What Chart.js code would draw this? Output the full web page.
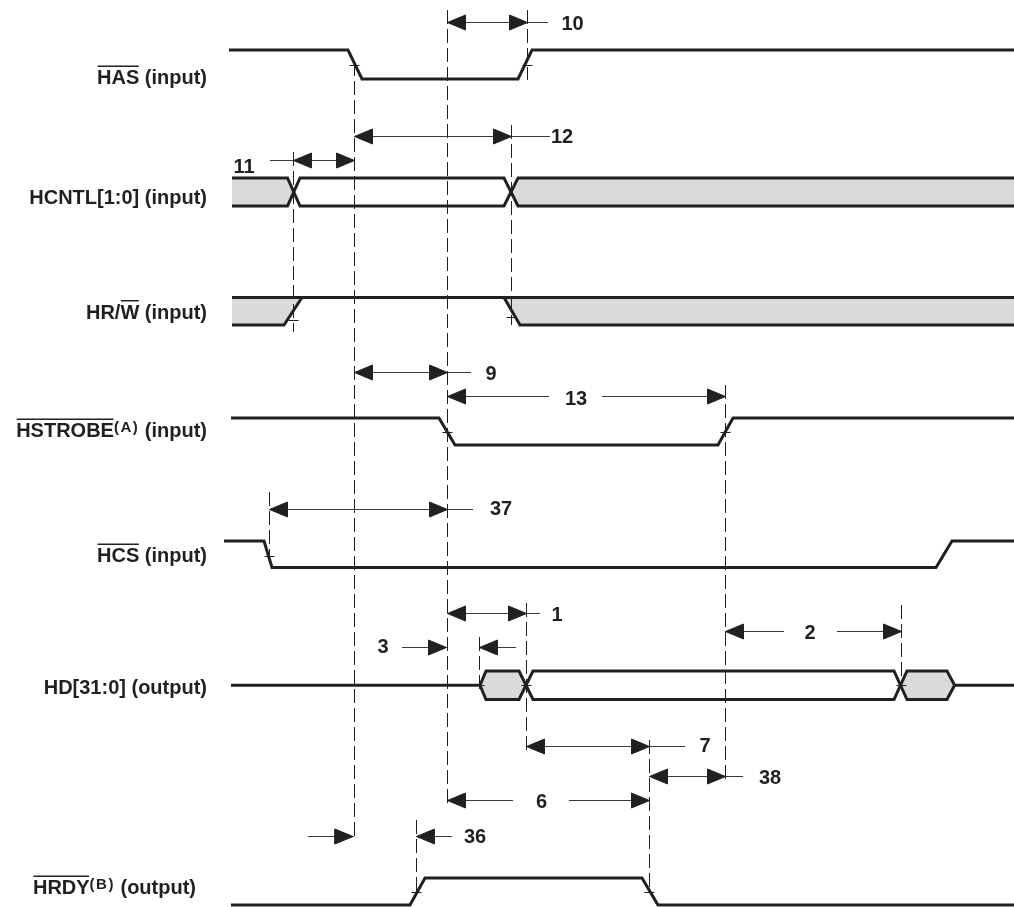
<!DOCTYPE html>
<html><head><meta charset="utf-8">
<script src="https://cdn.jsdelivr.net/npm/chart.js@4"></script>
<style>html,body{margin:0;padding:0;background:#fff;}canvas{display:block;}</style>
</head><body>
<canvas id="c" width="1014" height="907"></canvas>
<script>
// ---------------- DATA ----------------
// Signal lanes (value of the vertical "lane" scale at high / low level)
const signalNames = ['HAS', 'HCNTL[1:0]', 'HR/W', 'HSTROBE', 'HCS', 'HD[31:0]', 'HRDY'];
const laneHigh = [50, 178, 297.5, 418, 541, 671, 878];
const laneLow  = [79, 206, 325, 445, 567.5, 699.5, 905];

// Waveforms: edge times and levels (1 = high, 0 = low, 0.5 = mid / tri-state)
const hasT = [229, 348, 362, 518, 532, 1014];
const hasL = [1, 1, 0, 0, 1, 1];

const hcntlT  = [232, 287.5, 300, 504, 518, 1014];
const hcntlLA = [1, 1, 0, 0, 1, 1];
const hcntlLB = [0, 0, 1, 1, 0, 0];
const hcntlGrayLeftT  = [232, 287.5, 293.75, 287.5, 232];
const hcntlGrayLeftL  = [1, 1, 0.5, 0, 0];
const hcntlGrayRightT = [1014, 518, 511, 518, 1014];
const hcntlGrayRightL = [1, 1, 0.5, 0, 0];

const hrwHighT = [232, 1014];
const hrwHighL = [1, 1];
const hrwRiseT = [232, 284, 302];
const hrwRiseL = [0, 0, 1];
const hrwFallT = [504, 520, 1014];
const hrwFallL = [1, 0, 0];
const hrwGrayLeftT  = [232, 302, 284, 232];
const hrwGrayLeftL  = [1, 1, 0, 0];
const hrwGrayRightT = [504, 1014, 1014, 520];
const hrwGrayRightL = [1, 1, 0, 0];

const hstrobeT = [231, 439, 455, 718, 733, 1014];
const hstrobeL = [1, 1, 0, 0, 1, 1];

const hcsT = [224, 264, 272, 936, 952, 1014];
const hcsL = [1, 1, 0, 0, 1, 1];

const hdTA = [231, 480, 486, 519, 533, 894, 907, 947, 954.6, 1014];
const hdLA = [0.5, 0.5, 1, 1, 0, 0, 1, 1, 0.5, 0.5];
const hdTB = [480, 486, 519, 533, 894, 907, 947, 954.6];
const hdLB = [0.5, 0, 0, 1, 1, 0, 0, 0.5];
const hdHex1T = [480, 486, 519, 526, 519, 486];
const hdHex2T = [900.5, 907, 947, 954.6, 947, 907];
const hdHexL  = [0.5, 1, 1, 0.5, 0, 0];

const hrdyT = [231, 410, 425, 642, 658, 1014];
const hrdyL = [0, 0, 1, 1, 0, 0];

// Small "+" ticks where reference lines cross the edges: [time, lane, level]
const edgeTicks = [
  [354.5, 0, 0.5], [527.5, 0, 0.5],
  [293.5, 2, 0.2], [511.5, 2, 0.3],
  [447.5, 3, 0.5], [725.5, 3, 0.5],
  [269.5, 4, 0.45],
  [479.5, 5, 0.5], [526.5, 5, 0.5], [901.5, 5, 0.5],
  [416.5, 6, 0.5], [649.5, 6, 0.5]
];

// Dashed reference lines: time, from, to (lane-scale values)
const guideT    = [293.5, 354.5, 447.5, 511.5, 527.5, 269.5, 526.5, 479.5, 725.5, 649.5, 416.5, 901.5];
const guideFrom = [152, 62, 10, 125, 10, 492, 603, 637, 385, 740, 820, 605];
const guideTo   = [332, 838, 808, 325, 80, 558, 754, 692, 781, 893, 893, 688];

// Timing parameters (dimension arrows)
const dimLabels = ['10', '12', '11', '9', '13', '37', '1', '2', '3', '', '7', '38', '6', '', '36'];
const dimY      = [22.5, 136.5, 160.5, 372.5, 396.5, 509.5, 613.5, 631.5, 647.5, 647.5, 746.5, 776.5, 800.5, 836.5, 836.5];
const dimLabelX = [572.5, 562, 244, 491, 576, 501, 557, 810, 383, null, 705, 770, 541.5, null, 475];
const dimLabelY = [22.5, 135.5, 165.5, 373, 397.5, 508, 614, 632, 646, null, 745, 776.7, 800.7, null, 835.7];
const dimSegs = [
  [[447.5, 548]], [[354.5, 550]], [[270, 354.5]], [[354.5, 471]], [[447.5, 549], [602, 725.5]],
  [[269.5, 473]], [[447.5, 540]], [[725.5, 784], [837, 901.5]], [[402, 446.5]], [[479.5, 516]],
  [[526.5, 685]], [[649.5, 743]], [[447.5, 513], [569, 649.5]], [[308, 354]], [[416.5, 452]]
];
const dimLeftTips  = [[447.5], [354.5], [293.5], [354.5], [447.5], [269.5], [447.5], [725.5], [], [479.5], [526.5], [649.5], [447.5], [], [416.5]];
const dimRightTips = [[527.5], [511.5], [354.5], [447.5], [725.5], [447.5], [526.5], [901.5], [446.5], [], [649.5], [725.5], [649.5], [353], []];

// Signal name labels (runs: o = overline, s = superscript)
const labelRuns = [
  [{t: 'HAS', o: 1}, {t: ' (input)'}],
  [{t: 'HCNTL[1:0] (input)'}],
  [{t: 'HR/'}, {t: 'W', o: 1}, {t: ' (input)'}],
  [{t: 'HSTROBE', o: 1}, {t: '(A)', s: 1}, {t: ' (input)'}],
  [{t: 'HCS', o: 1}, {t: ' (input)'}],
  [{t: 'HD[31:0] (output)'}],
  [{t: 'HRDY', o: 1}, {t: '(B)', s: 1}, {t: ' (output)'}]
];

// ---------------- LAYOUT / STYLE ----------------
const INK = '#231f20';
const GRAY = '#d9dadb';
const DIMC = '#3a3a3a';
const labelRight = [207, 207, 207, 207, 207, 207, 196];
const labelBase  = [84, 203.5, 318.5, 437, 562, 693.5, 894];
const FONT = '"Liberation Sans", Arial, Helvetica, sans-serif';
const HEAD_LEN = 18, HEAD_HALF = 7.5;

// ---------------- BUILD ----------------
const yAt = (lane, level) => laneLow[lane] + (laneHigh[lane] - laneLow[lane]) * level;
const pts = (lane, T, L) => T.map((t, i) => ({x: t, y: yAt(lane, L[i])}));

const layers = [];
function addPoly(points, color, stroke) {
  layers.push({data: points.concat([points[0]]), showLine: true, tension: 0, pointRadius: 0,
    borderWidth: 1, borderColor: stroke ? color : 'rgba(0,0,0,0)',
    backgroundColor: color, fill: 'shape', clip: false, borderJoinStyle: 'miter'});
}
function addLine(points, color, width, dash) {
  layers.push({data: points, showLine: true, tension: 0, pointRadius: 0, borderWidth: width,
    borderColor: color, backgroundColor: color, fill: false, clip: false,
    borderDash: dash || [], borderJoinStyle: 'miter', borderCapStyle: 'butt'});
}

// gray (don't care / transition) areas
addPoly(pts(1, hcntlGrayLeftT, hcntlGrayLeftL), GRAY);
addPoly(pts(1, hcntlGrayRightT, hcntlGrayRightL), GRAY);
addPoly(pts(2, hrwGrayLeftT, hrwGrayLeftL), GRAY);
addPoly(pts(2, hrwGrayRightT, hrwGrayRightL), GRAY);
addPoly(pts(5, hdHex1T, hdHexL), GRAY);
addPoly(pts(5, hdHex2T, hdHexL), GRAY);

// dashed guides
guideT.forEach((t, i) => addLine([{x: t, y: guideFrom[i]}, {x: t, y: guideTo[i]}], INK, 1, [14, 5]));

// waveforms
const W = 3;
addLine(pts(0, hasT, hasL), INK, W);
addLine(pts(1, hcntlT, hcntlLA), INK, W);
addLine(pts(1, hcntlT, hcntlLB), INK, W);
addLine(pts(2, hrwHighT, hrwHighL), INK, W);
addLine(pts(2, hrwRiseT, hrwRiseL), INK, W);
addLine(pts(2, hrwFallT, hrwFallL), INK, W);
addLine(pts(3, hstrobeT, hstrobeL), INK, W);
addLine(pts(4, hcsT, hcsL), INK, W);
addLine(pts(5, hdTA, hdLA), INK, W);
addLine(pts(5, hdTB, hdLB), INK, W);
addLine(pts(6, hrdyT, hrdyL), INK, W);

// edge ticks
edgeTicks.forEach(([t, lane, lv]) => {
  const y = Math.round(yAt(lane, lv)) + 0.5;
  addLine([{x: t - 5, y}, {x: t + 5, y}], INK, 1);
});

// dimension arrows
dimY.forEach((y, i) => {
  dimSegs[i].forEach(([a, b]) => addLine([{x: a, y}, {x: b, y}], DIMC, 1));
  dimLeftTips[i].forEach(t => addPoly([{x: t, y}, {x: t + HEAD_LEN, y: y - HEAD_HALF}, {x: t + HEAD_LEN, y: y + HEAD_HALF}], INK, true));
  dimRightTips[i].forEach(t => addPoly([{x: t, y}, {x: t - HEAD_LEN, y: y - HEAD_HALF}, {x: t - HEAD_LEN, y: y + HEAD_HALF}], INK, true));
});

// text plugin (signal names + parameter numbers), positioned through the scales
const textPlugin = {
  id: 'timingTexts',
  afterDatasetsDraw(chart) {
    const ctx = chart.ctx, xs = chart.scales.x, ys = chart.scales.y;
    ctx.save();
    ctx.fillStyle = INK;
    ctx.textBaseline = 'alphabetic';
    ctx.textAlign = 'left';
    const mainF = 'bold 20px ' + FONT, supF = 'bold 15px ' + FONT;
    const setF = r => { ctx.font = r.s ? supF : mainF; ctx.letterSpacing = r.s ? '1.5px' : '0px'; };
    labelRuns.forEach((runs, i) => {
      let total = 0;
      const widths = runs.map(r => { setF(r); const w = ctx.measureText(r.t).width; total += w; return w; });
      let x = xs.getPixelForValue(labelRight[i]) - total;
      const base = ys.getPixelForValue(labelBase[i]);
      runs.forEach((r, k) => {
        setF(r);
        ctx.fillText(r.t, x, r.s ? base - 5 : base);
        if (r.o) ctx.fillRect(x + 0.5, base - 18.5, widths[k] - 1, 1.5);
        x += widths[k];
      });
    });
    ctx.font = mainF;
    ctx.letterSpacing = '0px';
    ctx.textAlign = 'center';
    dimLabels.forEach((lab, i) => {
      if (!lab) return;
      ctx.fillText(lab, xs.getPixelForValue(dimLabelX[i]), ys.getPixelForValue(dimLabelY[i]) + 7.2);
    });
    ctx.restore();
  }
};

new Chart(document.getElementById('c'), {
  type: 'scatter',
  data: {datasets: layers.slice().reverse()},
  options: {
    responsive: false,
    animation: false,
    events: [],
    layout: {padding: 0},
    scales: {
      x: {type: 'linear', min: 0, max: 1014, display: false},
      y: {type: 'linear', min: 0, max: 907, reverse: true, display: false}
    },
    plugins: {legend: {display: false}, tooltip: {enabled: false}, title: {display: false}}
  },
  plugins: [textPlugin]
});
</script>
</body></html>
